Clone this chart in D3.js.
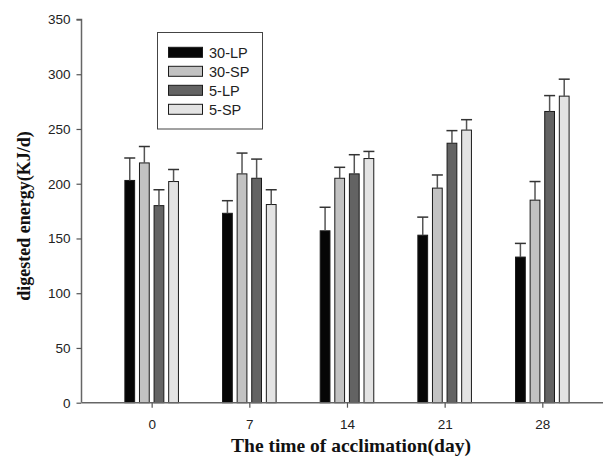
<!DOCTYPE html>
<html>
<head>
<meta charset="utf-8">
<script src="https://cdn.jsdelivr.net/npm/d3@7"></script>
<style>
  body { margin: 0; background: #fff; }
  svg { display: block; }
</style>
</head>
<body>
<svg id="chart" width="603" height="459"></svg>
<script>
// acclimation days and groups
const days = [0, 7, 14, 21, 28];
const series = ["30-LP", "30-SP", "5-LP", "5-SP"];
const colors = ["#060606", "#c2c2c2", "#636363", "#e3e3e3"];
const yTicks = [0, 50, 100, 150, 200, 250, 300, 350];

// means and upper error (SE)
const lp30 = [203, 173, 157, 153, 133];
const sp30 = [219, 209, 205, 196, 185];
const lp5 = [180, 205, 209, 237, 266];
const sp5 = [202, 181, 223, 249, 280];
const lp30Err = [20.5, 11.5, 21.5, 16.5, 12.5];
const sp30Err = [15, 19, 10, 12, 17];
const lp5Err = [14.5, 17.5, 17.5, 11.5, 14.5];
const sp5Err = [11, 13.5, 6.5, 9.5, 15.5];

const means = [lp30, sp30, lp5, sp5];
const errs = [lp30Err, sp30Err, lp5Err, sp5Err];

const rows = [];
series.forEach((s, i) => {
  days.forEach((d, j) => {
    rows.push({series: s, idx: i, day: d, value: means[i][j], err: errs[i][j]});
  });
});

const svg = d3.select("#chart");

const x = d3.scaleLinear().domain([-5, 32.35]).range([81.9, 603]);
const y = d3.scaleLinear().domain([0, 350]).range([402.7, 19.5]);
// offset of each series inside a group, in days
const off = d3.scalePoint().domain(series).range([-1.57, 1.57]);
const barW = 0.7;

// bars
svg.append("g").selectAll("rect")
  .data(rows)
  .enter().append("rect")
  .attr("x", d => x(d.day + off(d.series) - barW / 2))
  .attr("width", d => x(barW) - x(0))
  .attr("y", d => y(d.value))
  .attr("height", d => y(0) - y(d.value))
  .attr("fill", d => colors[d.idx])
  .attr("stroke", "#1a1a1a")
  .attr("stroke-width", 1);

// error bars (upper only)
const eb = svg.append("g");
eb.selectAll("line.stem")
  .data(rows)
  .enter().append("line")
  .attr("class", "stem")
  .attr("x1", d => x(d.day + off(d.series)))
  .attr("x2", d => x(d.day + off(d.series)))
  .attr("y1", d => y(d.value))
  .attr("y2", d => y(d.value + d.err))
  .attr("stroke", "#555")
  .attr("stroke-width", 1.5);

eb.selectAll("line.cap")
  .data(rows)
  .enter().append("line")
  .attr("class", "cap")
  .attr("x1", d => x(d.day + off(d.series)) - 5.5)
  .attr("x2", d => x(d.day + off(d.series)) + 5.5)
  .attr("y1", d => y(d.value + d.err))
  .attr("y2", d => y(d.value + d.err))
  .attr("stroke", "#333")
  .attr("stroke-width", 1.5);

// axes
const yAxis = svg.append("g")
  .attr("transform", "translate(81.5,0)")
  .call(d3.axisLeft(y).tickValues(yTicks).tickSize(5).tickPadding(6));

const xAxis = svg.append("g")
  .attr("transform", "translate(0,402.7)")
  .call(d3.axisBottom(x).tickValues(days).tickSize(5).tickPadding(12));

[yAxis, xAxis].forEach(a => {
  a.select(".domain").attr("stroke", "#666").attr("stroke-width", 1.5);
  a.selectAll(".tick line").attr("stroke", "#555").attr("stroke-width", 1.2);
  a.selectAll(".tick text")
    .attr("fill", "#222")
    .style("font-family", "'Liberation Sans', Arial, sans-serif")
    .style("font-size", "13.5px");
});
yAxis.select(".domain").attr("d", "M-5,19.5H0V402.7");
xAxis.select(".domain").attr("d", "M81.9,0H603");

// axis titles
svg.append("text")
  .attr("x", 351)
  .attr("y", 452)
  .attr("text-anchor", "middle")
  .style("font-family", "'Liberation Serif', 'Times New Roman', serif")
  .style("font-weight", "bold")
  .style("font-size", "19.5px")
  .attr("fill", "#111")
  .text("The time of acclimation(day)");

svg.append("text")
  .attr("transform", "translate(30,216) rotate(-90)")
  .attr("text-anchor", "middle")
  .style("font-family", "'Liberation Serif', 'Times New Roman', serif")
  .style("font-weight", "bold")
  .style("font-size", "18px")
  .attr("fill", "#111")
  .text("digested energy(KJ/d)");

// legend
const legend = svg.append("g");
legend.append("rect")
  .attr("x", 157.5).attr("y", 32.5)
  .attr("width", 105).attr("height", 96.5)
  .attr("fill", "#fff")
  .attr("stroke", "#444");

const item = legend.selectAll("g.item")
  .data(series)
  .enter().append("g")
  .attr("class", "item")
  .attr("transform", (d, i) => "translate(0," + (52.3 + i * 19) + ")");

item.append("rect")
  .attr("x", 168.5).attr("y", -5)
  .attr("width", 34).attr("height", 10)
  .attr("fill", (d, i) => colors[i])
  .attr("stroke", "#1a1a1a");

item.append("text")
  .attr("x", 209)
  .attr("dy", "0.36em")
  .style("font-family", "'Liberation Sans', Arial, sans-serif")
  .style("font-size", "14.5px")
  .attr("fill", "#222")
  .text(d => d);
</script>
</body>
</html>
